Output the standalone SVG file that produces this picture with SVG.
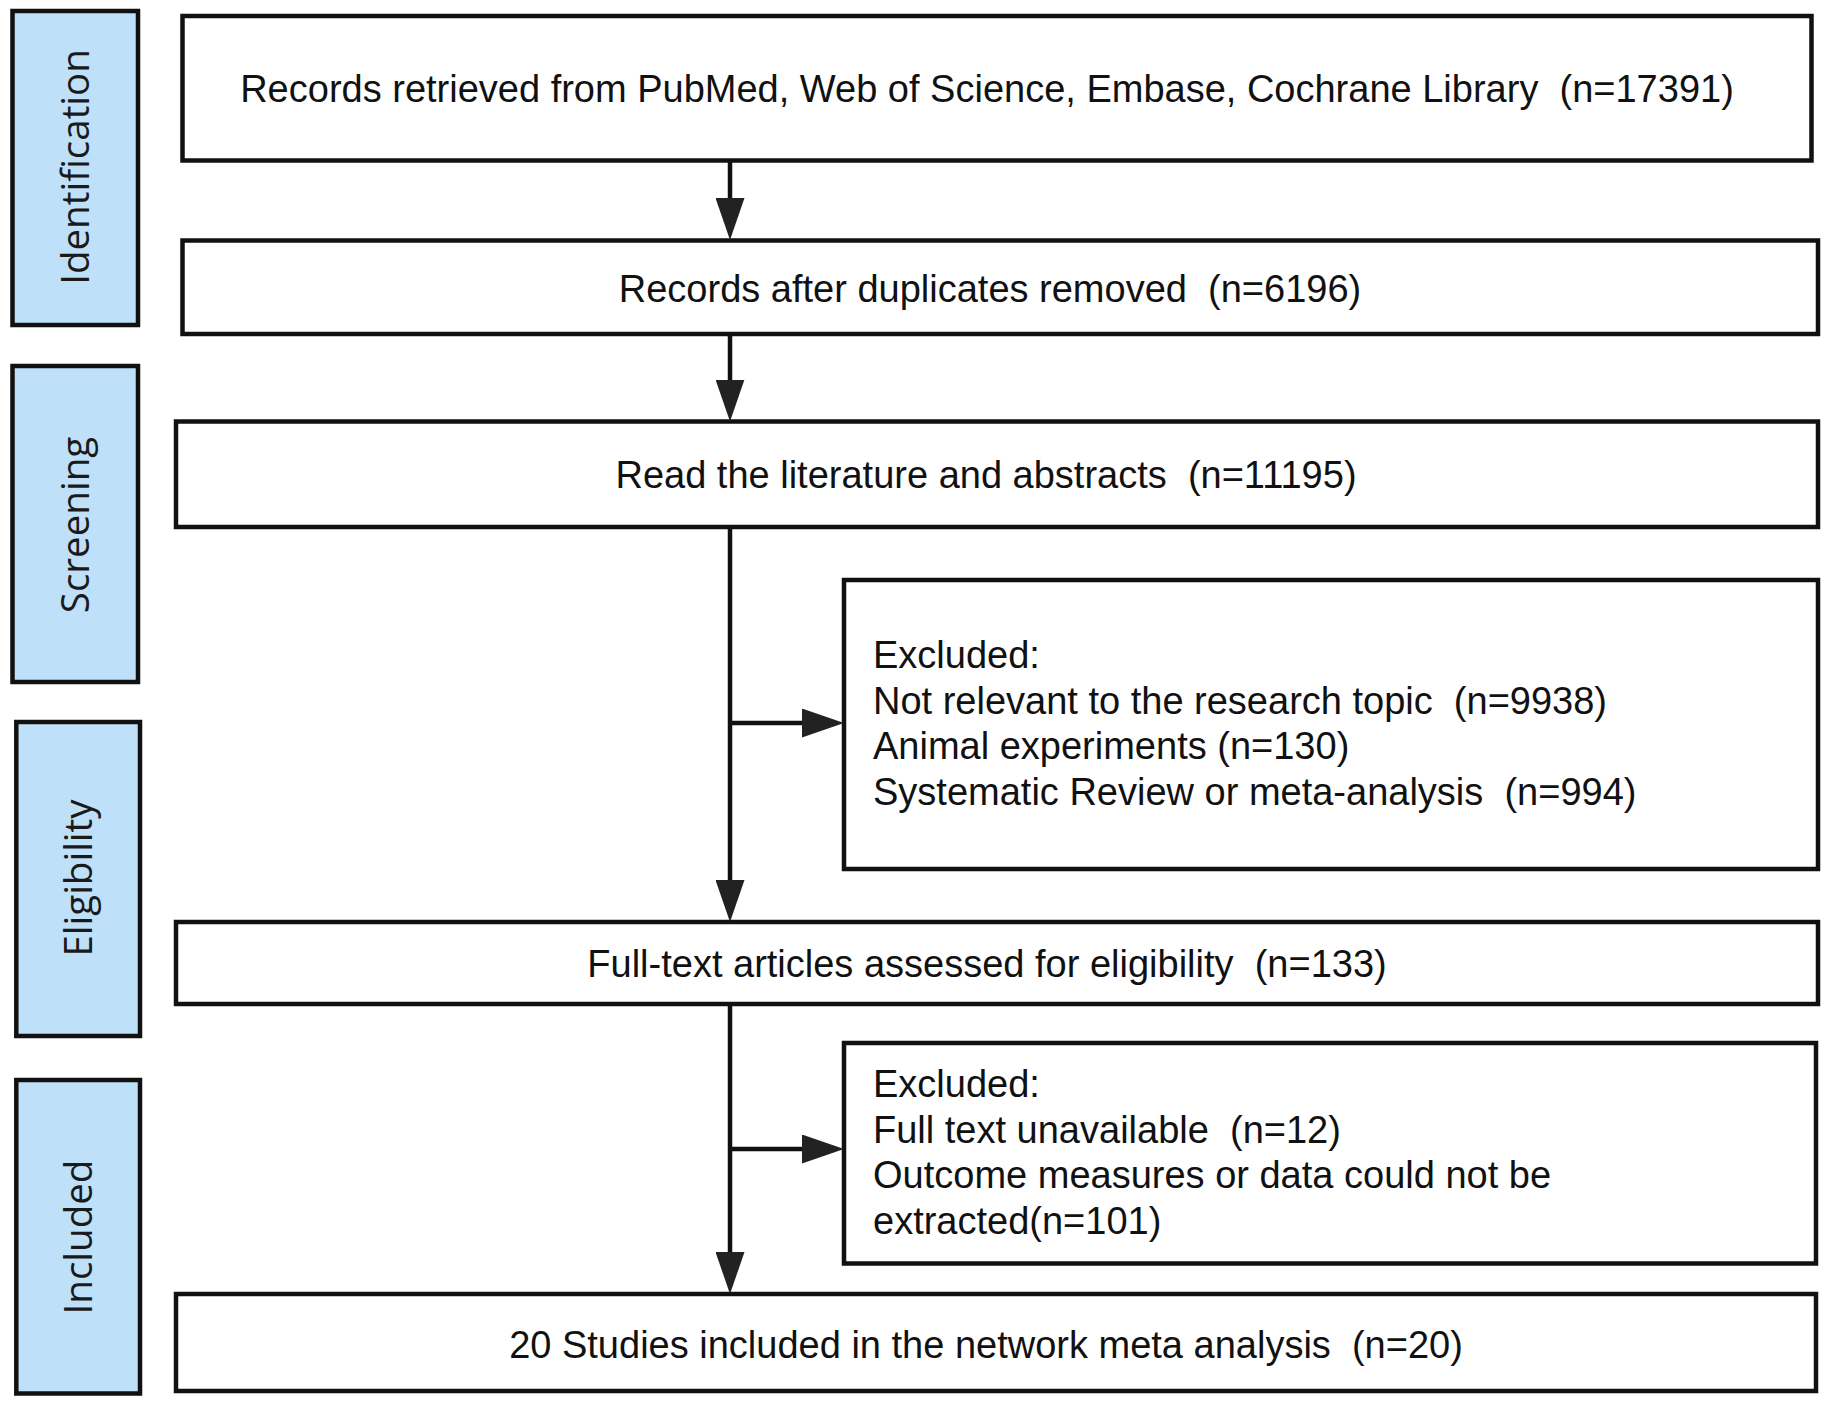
<svg xmlns="http://www.w3.org/2000/svg" width="1831" height="1406" viewBox="0 0 1831 1406">
<style>
.box{fill:#ffffff;stroke:#111111;stroke-width:4.5}
.lab{fill:#bfe0f9;stroke:#111111;stroke-width:4.5}
.t{font-family:"Liberation Sans",Arial,sans-serif;font-size:38px;fill:#111111;white-space:pre}
.c{text-anchor:middle}
.lt{font-family:"Open Sans","Noto Sans",sans-serif;font-size:38.5px;fill:#1a1a1a;text-anchor:middle}
.con{fill:none;stroke:#111111;stroke-width:4.5}
</style>
<defs>
<marker id="ah" viewBox="0 0 42 29" refX="32" refY="14.5" markerWidth="42" markerHeight="29" markerUnits="userSpaceOnUse" orient="auto">
<path d="M0,0 L42,14.5 L0,29 Z" fill="#222222"/>
</marker>
</defs>
<rect width="1831" height="1406" fill="#ffffff"/>

<g id="label-identification">
<rect class="lab" x="12.5" y="11" width="125.5" height="314"/>
<text class="lt" transform="translate(89,167) rotate(-90)">Identification</text>
</g>
<g id="label-screening">
<rect class="lab" x="12.5" y="366" width="125.5" height="316"/>
<text class="lt" transform="translate(89,525) rotate(-90)">Screening</text>
</g>
<g id="label-eligibility">
<rect class="lab" x="16.3" y="722" width="123.7" height="314"/>
<text class="lt" transform="translate(92,878) rotate(-90)">Eligibility</text>
</g>
<g id="label-included">
<rect class="lab" x="16.3" y="1080" width="123.7" height="313.5"/>
<text class="lt" transform="translate(92,1237) rotate(-90)">Included</text>
</g>

<g id="records-retrieved">
<rect class="box" x="182.5" y="16" width="1629" height="144.5"/>
<text class="t c" x="987" y="102">Records retrieved from PubMed, Web of Science, Embase, Cochrane Library  (n=17391)</text>
</g>
<g id="records-after-duplicates">
<rect class="box" x="182.5" y="240.5" width="1635.5" height="93.5"/>
<text class="t c" x="990" y="302">Records after duplicates removed  (n=6196)</text>
</g>
<g id="read-literature">
<rect class="box" x="176" y="421.5" width="1642" height="105.5"/>
<text class="t c" x="986" y="487.5">Read the literature and abstracts  (n=11195)</text>
</g>
<g id="excluded-1">
<rect class="box" x="844" y="580" width="974" height="289"/>
<text class="t" x="873" y="668">Excluded:</text>
<text class="t" x="873" y="713.5">Not relevant to the research topic  (n=9938)</text>
<text class="t" x="873" y="759">Animal experiments (n=130)</text>
<text class="t" x="873" y="804.5">Systematic Review or meta-analysis  (n=994)</text>
</g>
<g id="full-text-assessed">
<rect class="box" x="176" y="922" width="1642" height="82"/>
<text class="t c" x="987" y="977">Full-text articles assessed for eligibility  (n=133)</text>
</g>
<g id="excluded-2">
<rect class="box" x="844" y="1043" width="972" height="220.5"/>
<text class="t" x="873" y="1097">Excluded:</text>
<text class="t" x="873" y="1142.5">Full text unavailable  (n=12)</text>
<text class="t" x="873" y="1188">Outcome measures or data could not be</text>
<text class="t" x="873" y="1233.5">extracted(n=101)</text>
</g>
<g id="studies-included">
<rect class="box" x="176" y="1294" width="1640" height="97"/>
<text class="t c" x="986" y="1358">20 Studies included in the network meta analysis  (n=20)</text>
</g>

<g id="connectors">
<path class="con" d="M730,160.5 L730,230" marker-end="url(#ah)"/>
<path class="con" d="M730,334 L730,411.5" marker-end="url(#ah)"/>
<path class="con" d="M730,527 L730,912" marker-end="url(#ah)"/>
<path class="con" d="M730,723 L834,723" marker-end="url(#ah)"/>
<path class="con" d="M730,1004 L730,1284" marker-end="url(#ah)"/>
<path class="con" d="M730,1149 L834,1149" marker-end="url(#ah)"/>
</g>
</svg>
